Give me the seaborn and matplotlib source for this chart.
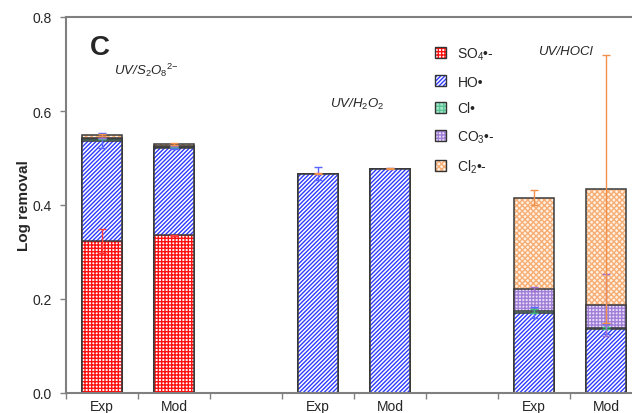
import numpy as np
import matplotlib
matplotlib.use("Agg")
import matplotlib.pyplot as plt
import seaborn as sns
from matplotlib.patches import Patch
from matplotlib.legend_handler import HandlerTuple

# Bar slots (gaps at 2 and 5 separate the three processes)
positions = [0, 1, 3, 4, 6, 7]
bar_labels = ["Exp", "Mod", "Exp", "Mod", "Exp", "Mod"]

# Contribution of each radical to log removal (stacked bottom -> top)
so4 = [0.323, 0.336, 0.0, 0.0, 0.0, 0.0]
ho = [0.214, 0.185, 0.467, 0.477, 0.171, 0.136]
cl = [0.003, 0.002, 0.0, 0.0, 0.004, 0.002]
co3 = [0.003, 0.003, 0.0, 0.0, 0.046, 0.049]
cl2 = [0.006, 0.003, 0.0, 0.0, 0.194, 0.247]

# Error bars drawn at the top of each stacked layer
so4_err = [0.025, 0.001, 0.0, 0.0, 0.0, 0.0]
ho_err = [0.016, 0.001, 0.014, 0.001, 0.012, 0.010]
cl_err = [0.0, 0.0, 0.0, 0.0, 0.004, 0.002]
co3_err = [0.0, 0.0, 0.0, 0.0, 0.004, 0.066]
cl2_err = [0.003, 0.002, 0.001, 0.001, 0.016, 0.286]

legend_labels = ["SO$_4$•-", "HO•", "Cl•", "CO$_3$•-", "Cl$_2$•-"]

sns.set_style("white")
plt.rcParams["font.family"] = ["Liberation Sans", "DejaVu Sans"]
plt.rcParams["mathtext.fontset"] = "custom"
plt.rcParams["mathtext.rm"] = "Liberation Sans"
plt.rcParams["mathtext.it"] = "Liberation Sans:italic"
plt.rcParams["hatch.linewidth"] = 1.0

# (face, hatch colour, hatch, errorbar colour)
styles = [
    ("white", "#ff1010", "+++++", "#ff3b3b"),
    ("white", "#2f3cff", "////////", "#5a64ff"),
    ("#a6e6c8", "#5cc597", "++++", "#3cb878"),
    ("#e8defa", "#a27fd6", "+++++", "#a070d0"),
    ("#fff0e2", "#f6ae75", "xxxxxx", "#f0904a"),
]

layers = [so4, ho, cl, co3, cl2]
errs = [so4_err, ho_err, cl_err, co3_err, cl2_err]
tops = np.cumsum(np.array(layers), axis=0)

fig = plt.figure(figsize=(6.32, 4.14), dpi=100)
ax = fig.add_axes([66 / 632, 20 / 414, 576 / 632, 376 / 414])

# draw cumulative totals from the top layer down so lower layers cover upper ones
for i in range(len(layers) - 1, -1, -1):
    face, hc, hatch, _ = styles[i]
    sns.barplot(x=positions, y=tops[i], native_scale=True, width=0.56,
                color=face, saturation=1, edgecolor=hc, hatch=hatch,
                linewidth=0, errorbar=None, ax=ax)
    sns.barplot(x=positions, y=tops[i], native_scale=True, width=0.56,
                fill=False, color="#3a3a3a", linewidth=1.1,
                errorbar=None, ax=ax)

for i in range(len(layers)):
    ecol = styles[i][3]
    x_e, y_e, e_e = [], [], []
    for j, p in enumerate(positions):
        if layers[i][j] > 0 or errs[i][j] > 0:
            x_e.append(p)
            y_e.append(tops[i][j])
            e_e.append(errs[i][j])
    ax.errorbar(x_e, y_e, yerr=e_e, fmt="none", ecolor=ecol,
                elinewidth=1, capsize=3, capthick=1, zorder=5)

ax.set_xlim(-0.5, 7.5)
ax.set_ylim(0, 0.8)
ax.set_xticks(np.arange(-0.5, 8, 1.0))
ax.set_xticklabels([])
ax.set_xticks(positions, minor=True)
ax.set_xticklabels(bar_labels, minor=True, fontsize=10)
ax.tick_params(axis="x", which="minor", length=0, pad=4)
ax.tick_params(axis="x", which="major", direction="out", length=4,
               width=1, color="#808080", bottom=True)
ax.set_yticks([0.0, 0.2, 0.4, 0.6, 0.8])
ax.set_yticklabels(["0.0", "0.2", "0.4", "0.6", "0.8"], fontsize=10)
ax.tick_params(axis="y", direction="out", length=4, width=1,
               color="#808080", left=True, pad=6)
ax.set_xlabel("")
ax.set_ylabel("Log removal", fontsize=11, fontweight="bold", labelpad=1)

for side in ["left", "bottom", "top"]:
    ax.spines[side].set_color("#808080")
    ax.spines[side].set_linewidth(1.5)
ax.spines["right"].set_visible(False)

ax.text(0.042, 0.955, "C", transform=ax.transAxes, fontsize=20,
        fontweight="bold", va="top", ha="left")
ax.text(0.083, 0.86, "UV/S$_2$O$_8$$^{2{-}}$", transform=ax.transAxes,
        fontsize=9.5, style="italic", ha="left", va="center")
ax.text(0.458, 0.77, "UV/H$_2$O$_2$", transform=ax.transAxes,
        fontsize=9.5, style="italic", ha="left", va="center")
ax.text(0.82, 0.91, "UV/HOCl", transform=ax.transAxes,
        fontsize=9.5, style="italic", ha="left", va="center")

handles = []
for face, hc, hatch, _ in styles:
    handles.append((Patch(facecolor=face, edgecolor=hc, hatch=hatch, linewidth=0),
                    Patch(fill=False, edgecolor="#333333", linewidth=1)))
fig.legend(handles, legend_labels, loc="upper left",
           bbox_to_anchor=(422 / 632, 1 - 34 / 414), frameon=False,
           handler_map={tuple: HandlerTuple(ndivide=1, pad=0)},
           handlelength=0.85, handleheight=0.85, handletextpad=0.8,
           labelspacing=0.92, fontsize=10)

fig.savefig("out.png", dpi=100)
